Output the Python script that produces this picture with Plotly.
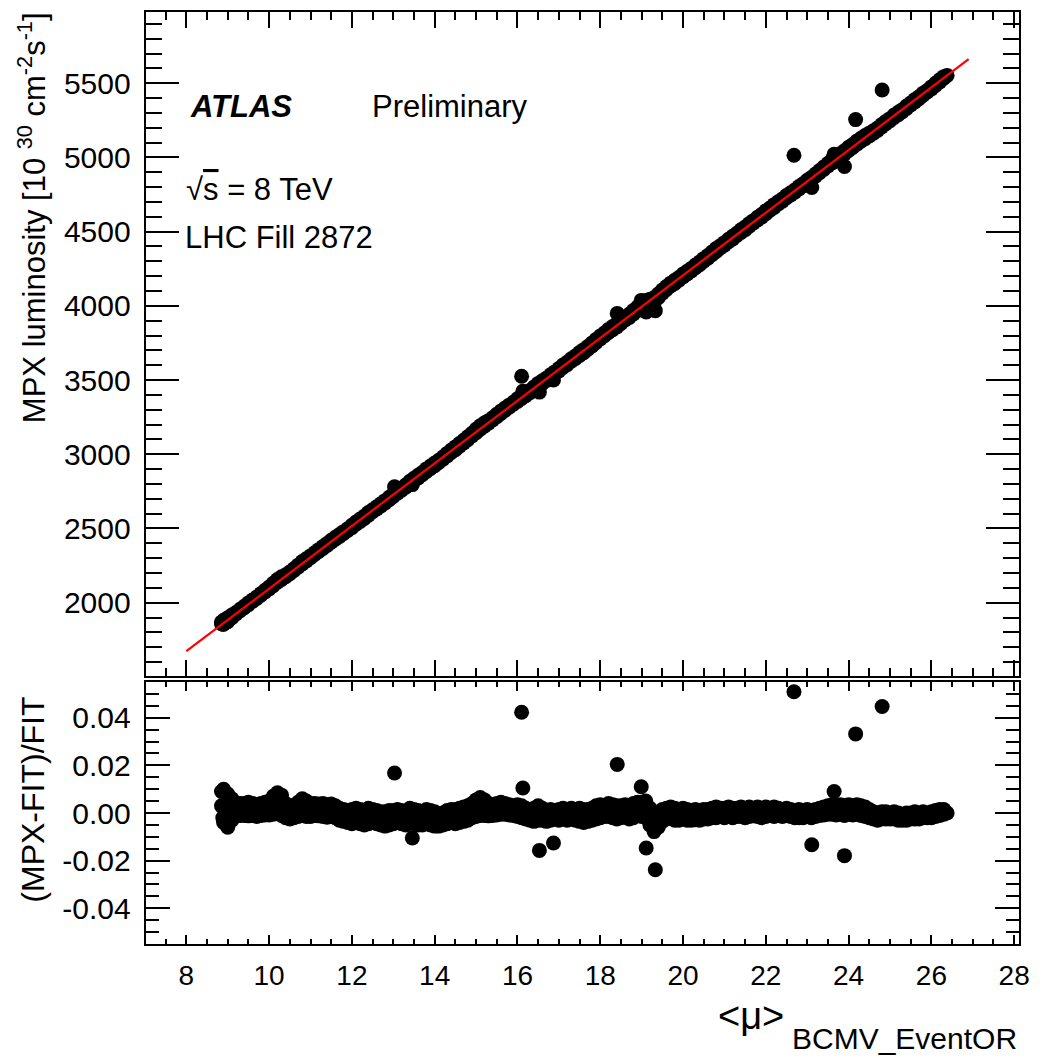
import numpy as np
import plotly.graph_objects as go

# ---------------- data ----------------
FIT_SLOPE = 211.1          # MPX lumi per unit <mu>
FIT_INTERCEPT = -16.0
FIT_RANGE = [8.0, 26.9]

MU = [8.9, 9.0, 9.1, 9.2, 9.3, 9.4, 9.5, 9.6, 9.7, 9.8,
      9.9, 10.0, 10.1, 10.2, 10.3, 10.4, 10.5, 10.6, 10.7, 10.8,
      10.9, 11.0, 11.1, 11.2, 11.3, 11.4, 11.5, 11.6, 11.7, 11.8,
      11.9, 12.0, 12.1, 12.2, 12.3, 12.4, 12.5, 12.6, 12.7, 12.8,
      12.9, 13.0, 13.1, 13.2, 13.3, 13.4, 13.5, 13.6, 13.7, 13.8,
      13.9, 14.0, 14.1, 14.2, 14.3, 14.4, 14.5, 14.6, 14.7, 14.8,
      14.9, 15.0, 15.1, 15.2, 15.3, 15.4, 15.5, 15.6, 15.7, 15.8,
      15.9, 16.0, 16.1, 16.2, 16.3, 16.4, 16.5, 16.6, 16.7, 16.8,
      16.9, 17.0, 17.1, 17.2, 17.3, 17.4, 17.5, 17.6, 17.7, 17.8,
      17.9, 18.0, 18.1, 18.2, 18.3, 18.4, 18.5, 18.6, 18.7, 18.8,
      18.9, 19.0, 19.1, 19.2, 19.3, 19.4, 19.5, 19.6, 19.7, 19.8,
      19.9, 20.0, 20.1, 20.2, 20.3, 20.4, 20.5, 20.6, 20.7, 20.8,
      20.9, 21.0, 21.1, 21.2, 21.3, 21.4, 21.5, 21.6, 21.7, 21.8,
      21.9, 22.0, 22.1, 22.2, 22.3, 22.4, 22.5, 22.6, 22.7, 22.8,
      22.9, 23.0, 23.1, 23.2, 23.3, 23.4, 23.5, 23.6, 23.7, 23.8,
      23.9, 24.0, 24.1, 24.2, 24.3, 24.4, 24.5, 24.6, 24.7, 24.8,
      24.9, 25.0, 25.1, 25.2, 25.3, 25.4, 25.5, 25.6, 25.7, 25.8,
      25.9, 26.0, 26.1, 26.2, 26.3]

# upper edge of the residual band
RESID_HI = [.010, .008, .006, .004, .004, .004, .0045, .004, .0035, .004,
            .0045, .005, .007, .0085, .0075, .004, .003, .003, .0045, .006,
            .005, .004, .004, .0038, .004, .0035, .0038, .003, .002, .0015,
            .001, .0015, .002, .0015, .001, .002, .0015, .001, .0005, .0005,
            .001, .001, .0015, .001, .0005, .002, .0015, .001, .0005, .0015,
            .001, .0005, -.0005, .000, .001, .0015, .0015, .002, .0025, .003,
            .004, .0055, .0065, .0055, .004, .0035, .004, .0045, .004, .0035,
            .003, .0035, .003, .002, .0015, .002, .003, .002, .001, .0015,
            .001, .0015, .002, .0015, .002, .0015, .002, .0015, .0015, .002,
            .003, .0035, .003, .004, .0035, .003, .003, .0035, .003, .004,
            .0045, .0045, .005, .002, -.001, .000, .0015, .002, .0025, .002,
            .0015, .002, .0015, .001, .0015, .001, .0015, .0015, .002, .0025,
            .002, .002, .0025, .002, .002, .0025, .002, .0025, .002, .0025,
            .002, .0025, .002, .0025, .002, .0015, .002, .0015, .001, .0015,
            .001, .0015, .001, .0015, .002, .0025, .003, .0035, .003, .0035,
            .003, .0035, .003, .0035, .003, .0025, .0015, .0005, .000, .0005,
            .0005, .000, .0005, .000, -.0005, .000, .000, .0005, .000, .0005,
            .000, .0005, .001, .0015, .0015]

# lower edge of the residual band
RESID_LO = [-.004, -.006, -.003, -.001, -.001, -.001, -.0012, -.001, -.0015, -.001,
            -.0008, -.0008, -.0005, .000, -.001, -.002, -.0025, -.002, -.0015, -.001,
            -.0015, -.0015, -.001, -.0012, -.0015, -.0018, -.0015, -.002, -.003, -.0035,
            -.004, -.0045, -.004, -.0045, -.005, -.0045, -.004, -.0045, -.005, -.0055,
            -.005, -.0045, -.004, -.0045, -.005, -.004, -.0045, -.005, -.005, -.0045,
            -.005, -.0055, -.0055, -.005, -.0045, -.004, -.0045, -.004, -.0035, -.003,
            -.002, -.0015, -.001, -.001, -.0012, -.001, -.0008, -.0005, -.0005, -.0008,
            -.001, -.0015, -.002, -.0025, -.003, -.0035, -.003, -.003, -.0035, -.003,
            -.0025, -.003, -.0025, -.003, -.0025, -.003, -.0035, -.004, -.0035, -.003,
            -.0025, -.002, -.0015, -.0015, -.002, -.0025, -.002, -.0015, -.0025, -.002,
            -.001, -.0015, -.002, -.005, -.0078, -.006, -.0035, -.0025, -.002, -.003,
            -.003, -.0025, -.003, -.003, -.0028, -.003, -.0025, -.0025, -.002, -.002,
            -.0015, -.002, -.0015, -.002, -.0015, -.0015, -.002, -.0015, -.0012, -.0015,
            -.002, -.0015, -.001, -.0015, -.001, -.0015, -.001, -.0015, -.002, -.002,
            -.002, -.0015, -.002, -.0015, -.001, -.0008, -.0005, -.0005, -.0008, -.0005,
            -.001, -.0005, -.0008, -.0005, -.001, -.0015, -.002, -.0025, -.003, -.0025,
            -.0025, -.0025, -.0025, -.003, -.003, -.003, -.0025, -.0025, -.0025, -.002,
            -.002, -.002, -.0015, -.001, -.0005]

# additional points inside the band
EXTRA_MU = [8.85, 8.85, 8.88, 8.9, 8.95, 9.0, 9.05, 9.1, 10.1, 10.2, 10.3,
            10.8, 15.0, 15.1, 19.1, 19.3, 26.38]
EXTRA_R = [0.009, 0.003, -0.002, 0.003, 0.001, 0.001, -0.001, 0.0015, 0.003,
           0.004, 0.003, 0.0025, 0.002, 0.0025, 0.0015, -0.004, 0.0]

# isolated outliers
OUT_MU = [13.03, 13.46, 16.10, 16.13, 16.53, 16.87, 18.41, 18.99, 19.11,
          19.33, 22.68, 23.11, 23.65, 23.90, 24.17, 24.81]
OUT_R = [0.0168, -0.0105, 0.0423, 0.0105, -0.0157, -0.0126, 0.0204, 0.0110,
         -0.0147, -0.0238, 0.0509, -0.0133, 0.0090, -0.0179, 0.0332, 0.0447]

Y_RES_TICKS = [-0.04, -0.02, 0.0, 0.02, 0.04]
Y_RES_LABELS = ["-0.04", "-0.02", "0.00", "0.02", "0.04"]
X_TICKS = [8, 10, 12, 14, 16, 18, 20, 22, 24, 26, 28]

# ---------------- derived ----------------
mu_all = np.array(MU + MU + EXTRA_MU + OUT_MU)
res_all = np.array(RESID_HI + RESID_LO + EXTRA_R + OUT_R)
fit_at_mu = FIT_SLOPE * mu_all + FIT_INTERCEPT
mpx_lumi = fit_at_mu * (1.0 + res_all)
fit_x = np.array(FIT_RANGE)
fit_y = FIT_SLOPE * fit_x + FIT_INTERCEPT

# ---------------- layout helpers ----------------
W, H = 1043, 1058
def px(p):
    return p / W
def py(p):
    return 1 - p / H

FONT = "Liberation Sans, Arial, Helvetica, sans-serif"
NARROW = "Liberation Sans Narrow, Arial Narrow, Liberation Sans, Arial, sans-serif"
MS = 15

fig = go.Figure()
fig.add_trace(go.Scatter(x=mu_all, y=mpx_lumi, mode="markers",
                         marker=dict(color="black", size=MS, line=dict(width=0)),
                         xaxis="x", yaxis="y", hoverinfo="skip"))
fig.add_trace(go.Scatter(x=fit_x, y=fit_y, mode="lines",
                         line=dict(color="#ff0000", width=2.2),
                         xaxis="x", yaxis="y", hoverinfo="skip"))
fig.add_trace(go.Scatter(x=mu_all, y=res_all, mode="markers",
                         marker=dict(color="black", size=MS, line=dict(width=0)),
                         xaxis="x2", yaxis="y2", hoverinfo="skip"))

XRANGE = [7.036, 28.12]
common_axis = dict(showline=True, linecolor="black", linewidth=1.5, mirror="allticks",
                   showgrid=False, zeroline=False, ticks="inside", tickcolor="black",
                   tickwidth=1.5)

fig.update_layout(
    width=W, height=H, margin=dict(l=0, r=0, t=0, b=0),
    paper_bgcolor="white", plot_bgcolor="white", showlegend=False,
    font=dict(family=FONT, color="black"),
    xaxis=dict(domain=[px(148), px(1030)], range=XRANGE, anchor="y",
               tickmode="array", tickvals=X_TICKS, showticklabels=False,
               ticklen=16,
               minor=dict(ticks="inside", ticklen=8, tickmode="linear", tick0=0, dtick=0.5,
                          tickcolor="black", tickwidth=1.5, showgrid=False),
               **common_axis),
    yaxis=dict(domain=[py(676), py(12)], range=[1506, 5980], anchor="x",
               tickmode="linear", tick0=0, dtick=500, ticklen=33,
               tickfont=dict(family=FONT, size=30), ticklabelstandoff=8,
               minor=dict(ticks="inside", ticklen=16, tickmode="linear", tick0=0, dtick=100,
                          tickcolor="black", tickwidth=1.5, showgrid=False),
               **common_axis),
    xaxis2=dict(domain=[px(148), px(1030)], range=XRANGE, anchor="y2",
                tickmode="array", tickvals=X_TICKS, ticklen=9,
                tickfont=dict(family=NARROW, size=28), ticklabelstandoff=6,
                minor=dict(ticks="inside", ticklen=5, tickmode="linear", tick0=0, dtick=0.5,
                           tickcolor="black", tickwidth=1.5, showgrid=False),
                **common_axis),
    yaxis2=dict(domain=[py(944), py(682)], range=[-0.055, 0.055], anchor="x2",
                tickmode="array", tickvals=Y_RES_TICKS, ticktext=Y_RES_LABELS, ticklen=24,
                tickfont=dict(family=FONT, size=30), ticklabelstandoff=8,
                minor=dict(ticks="inside", ticklen=13, tickmode="linear", tick0=0, dtick=0.005,
                           tickcolor="black", tickwidth=1.5, showgrid=False),
                **common_axis),
)

ann = [
    dict(text="MPX luminosity [10 <sup>30</sup> cm<sup>-2</sup>s<sup>-1</sup>]",
         x=px(33), y=py(10), xanchor="center", yanchor="top", textangle=-90,
         font=dict(family=FONT, size=31)),
    dict(text="(MPX-FIT)/FIT", x=px(33), y=py(800), xanchor="center", yanchor="middle",
         textangle=-90, font=dict(family=FONT, size=32)),
    dict(text="<b><i>ATLAS</i></b>", x=px(190), y=py(107), xanchor="left", yanchor="middle",
         font=dict(family=FONT, size=31)),
    dict(text="Preliminary", x=px(374), y=py(107), xanchor="left", yanchor="middle",
         font=dict(family=FONT, size=31)),
    dict(text="√<span style='text-decoration:overline'>s</span> = 8 TeV", x=px(186), y=py(190),
         xanchor="left", yanchor="middle", font=dict(family=FONT, size=31)),
    dict(text="LHC Fill 2872", x=px(185), y=py(237), xanchor="left", yanchor="middle",
         font=dict(family=FONT, size=31)),
    dict(text="&lt;μ&gt;", x=px(794), y=py(1016), xanchor="right", yanchor="middle",
         font=dict(family=NARROW, size=38)),
    dict(text="BCMV_EventOR", x=px(1030), y=py(1038), xanchor="right", yanchor="middle",
         font=dict(family=NARROW, size=30)),
]
for a in ann:
    a.update(xref="paper", yref="paper", showarrow=False)
fig.update_layout(annotations=ann)

fig.write_html("out.html")
